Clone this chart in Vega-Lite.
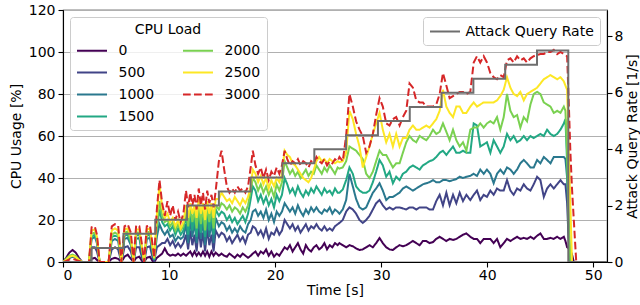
{
  "$schema": "https://vega.github.io/schema/vega-lite/v6.json",
  "width": 544,
  "height": 252,
  "autosize": {"type": "none"},
  "padding": {"left": 63, "top": 10, "right": 33, "bottom": 43},
  "config": {
    "font": "DejaVu Sans",
    "view": {"stroke": "#000", "strokeWidth": 1.1},
    "axis": {"labelFontSize": 14, "titleFontSize": 14, "titleFontWeight": "normal", "labelColor": "#000", "titleColor": "#000", "domainColor": "#000", "tickColor": "#000", "tickSize": 5, "domainWidth": 1.1, "tickWidth": 1.1, "labelFont": "DejaVu Sans", "titleFont": "DejaVu Sans"},
    "legend": {"labelFontSize": 14, "titleFontSize": 14, "titleFontWeight": "normal", "labelColor": "#000", "titleColor": "#000", "labelFont": "DejaVu Sans", "titleFont": "DejaVu Sans", "symbolType": "M-2,0L2,0", "symbolSize": 225, "symbolOffset": 7.5, "symbolStrokeWidth": 2, "fillColor": "rgba(255,255,255,0.8)", "strokeColor": "#cccccc", "cornerRadius": 3, "padding": 6, "labelOffset": 18, "offset": 7}
  },
  "datasets": {
    "cpu": [
      {"t":0,"0":0,"500":0,"1000":0,"1500":0,"2000":0,"2500":0,"3000":0},
      {"t":0.3,"0":2,"500":1,"1000":1,"1500":1,"2000":1.5,"2500":1,"3000":0.5},
      {"t":0.6,"0":4.5,"500":2,"1000":2,"1500":2.5,"2000":3,"2500":2.5,"3000":1.2},
      {"t":0.9,"0":5.7,"500":2.5,"1000":2.5,"1500":3,"2000":3.5,"2500":3,"3000":1.5},
      {"t":1.2,"0":4.5,"500":2,"1000":2,"1500":2.5,"2000":2.8,"2500":2.3,"3000":1},
      {"t":1.5,"0":2,"500":1,"1000":1,"1500":1,"2000":1.2,"2500":1,"3000":0.5},
      {"t":1.8,"0":0,"500":0,"1000":0,"1500":0,"2000":0,"2500":0,"3000":0},
      {"t":2.45,"0":0,"500":0,"1000":0,"1500":0,"2000":0,"2500":0,"3000":0},
      {"t":2.7,"0":1.5,"500":7,"1000":11,"1500":12,"2000":13.5,"2500":15,"3000":16.5},
      {"t":3.0,"0":2,"500":7,"1000":12,"1500":13,"2000":14,"2500":15.5,"3000":17},
      {"t":3.2,"0":1,"500":5,"1000":9,"1500":10,"2000":11,"2500":12,"3000":13},
      {"t":3.45,"0":0,"500":0,"1000":0,"1500":0,"2000":0,"2500":0,"3000":0},
      {"t":4.3,"0":0,"500":0,"1000":0,"1500":0,"2000":0,"2500":0,"3000":0},
      {"t":4.6,"0":1.5,"500":6,"1000":10,"1500":12,"2000":13,"2500":15,"3000":17},
      {"t":4.9,"0":2,"500":7,"1000":11,"1500":12.5,"2000":14,"2500":16,"3000":18},
      {"t":5.2,"0":1.5,"500":6,"1000":10,"1500":12,"2000":13,"2500":15,"3000":17.5},
      {"t":5.5,"0":0,"500":0,"1000":0,"1500":0,"2000":0,"2500":0,"3000":0},
      {"t":5.8,"0":2.5,"500":7,"1000":11,"1500":12.5,"2000":14,"2500":15.5,"3000":17},
      {"t":6.1,"0":3.5,"500":7.5,"1000":11.5,"1500":13,"2000":14.5,"2500":16,"3000":18},
      {"t":6.4,"0":1.5,"500":5,"1000":8,"1500":9,"2000":10,"2500":12,"3000":14},
      {"t":6.65,"0":0,"500":0,"1000":0,"1500":0,"2000":0,"2500":0,"3000":0},
      {"t":6.9,"0":2,"500":7,"1000":11,"1500":12.5,"2000":14,"2500":15.5,"3000":17.5},
      {"t":7.2,"0":2.5,"500":7,"1000":11.5,"1500":13,"2000":14,"2500":15.5,"3000":17},
      {"t":7.45,"0":0.5,"500":2,"1000":4,"1500":5,"2000":6,"2500":7,"3000":8},
      {"t":7.65,"0":0,"500":0,"1000":0,"1500":0,"2000":0,"2500":0,"3000":0},
      {"t":7.9,"0":2,"500":7,"1000":11,"1500":12.5,"2000":14,"2500":15.5,"3000":17},
      {"t":8.2,"0":2.5,"500":7.5,"1000":11.5,"1500":13,"2000":14.5,"2500":16,"3000":17.5},
      {"t":8.45,"0":0.5,"500":2,"1000":4,"1500":5,"2000":6,"2500":7,"3000":8},
      {"t":8.6,"0":0,"500":0.5,"1000":1,"1500":1,"2000":1.5,"2500":2,"3000":2},
      {"t":8.85,"0":2,"500":7,"1000":12,"1500":16,"2000":18,"2500":22,"3000":25},
      {"t":9.1,"0":3,"500":8,"1000":18,"1500":25,"2000":29,"2500":37,"3000":39},
      {"t":9.35,"0":4,"500":9,"1000":15,"1500":19,"2000":22,"2500":26,"3000":28},
      {"t":9.6,"0":6.5,"500":9,"1000":13,"1500":17,"2000":19,"2500":21,"3000":22},
      {"t":9.85,"0":4,"500":11,"1000":15,"1500":18,"2000":20,"2500":23,"3000":29},
      {"t":10.1,"0":3,"500":8,"1000":12,"1500":15,"2000":17,"2500":19,"3000":22},
      {"t":10.35,"0":3.5,"500":10,"1000":13,"1500":17,"2000":19,"2500":21,"3000":27},
      {"t":10.6,"0":3,"500":7,"1000":10,"1500":13,"2000":15,"2500":17,"3000":20},
      {"t":10.85,"0":4,"500":9,"1000":12,"1500":16,"2000":18,"2500":20,"3000":24},
      {"t":11.1,"0":3,"500":7,"1000":11,"1500":13,"2000":15,"2500":16,"3000":19},
      {"t":11.35,"0":4,"500":9,"1000":12,"1500":15,"2000":17,"2500":19,"3000":23},
      {"t":11.6,"0":3,"500":13,"1000":18,"1500":22,"2000":25,"2500":27,"3000":34},
      {"t":11.8,"0":4,"500":6,"1000":9,"1500":13,"2000":17,"2500":21,"3000":26},
      {"t":12.0,"0":5,"500":15,"1000":20,"1500":24,"2000":26,"2500":28,"3000":33},
      {"t":12.2,"0":3,"500":8,"1000":12,"1500":15,"2000":19,"2500":23,"3000":27},
      {"t":12.4,"0":5,"500":13,"1000":19,"1500":23,"2000":25,"2500":27,"3000":32},
      {"t":12.6,"0":3,"500":5,"1000":9,"1500":12,"2000":16,"2500":21,"3000":25},
      {"t":12.8,"0":4.5,"500":16,"1000":22,"1500":26,"2000":27,"2500":30,"3000":35},
      {"t":13.0,"0":3,"500":7,"1000":11,"1500":14,"2000":18,"2500":23,"3000":27},
      {"t":13.2,"0":5,"500":14,"1000":20,"1500":24,"2000":26,"2500":28,"3000":33},
      {"t":13.4,"0":3,"500":5,"1000":8,"1500":12,"2000":15,"2500":20,"3000":25},
      {"t":13.6,"0":5,"500":16,"1000":21,"1500":25,"2000":27,"2500":29,"3000":34},
      {"t":13.8,"0":2.5,"500":8,"1000":12,"1500":15,"2000":19,"2500":23,"3000":28},
      {"t":14.0,"0":5,"500":13,"1000":19,"1500":23,"2000":26,"2500":28,"3000":32},
      {"t":14.2,"0":3,"500":5,"1000":9,"1500":13,"2000":16,"2500":21,"3000":26},
      {"t":14.4,"0":4.5,"500":15,"1000":21,"1500":25,"2000":27,"2500":30,"3000":34},
      {"t":14.7,"0":3,"500":12,"1000":17,"1500":22,"2000":25,"2500":30,"3000":48},
      {"t":14.95,"0":4,"500":14,"1000":19,"1500":24,"2000":28,"2500":33,"3000":53},
      {"t":15.2,"0":3,"500":13,"1000":18,"1500":23,"2000":27,"2500":31,"3000":44},
      {"t":15.45,"0":2.5,"500":10,"1000":15,"1500":20,"2000":25,"2500":29,"3000":36},
      {"t":15.7,"0":4,"500":12,"1000":17,"1500":22,"2000":27,"2500":30,"3000":33},
      {"t":15.95,"0":3,"500":9,"1000":14,"1500":19,"2000":24,"2500":28,"3000":35},
      {"t":16.2,"0":2,"500":11,"1000":16,"1500":21,"2000":26,"2500":31,"3000":33},
      {"t":16.45,"0":3.5,"500":13,"1000":14,"1500":18,"2000":25,"2500":29,"3000":36},
      {"t":16.7,"0":2.5,"500":10,"1000":17,"1500":20,"2000":23,"2500":27,"3000":34},
      {"t":16.95,"0":4,"500":12,"1000":15,"1500":22,"2000":26,"2500":30,"3000":35},
      {"t":17.2,"0":3,"500":9,"1000":14,"1500":19,"2000":24,"2500":28,"3000":33},
      {"t":17.45,"0":2,"500":13,"1000":18,"1500":23,"2000":27,"2500":31,"3000":36},
      {"t":17.7,"0":3,"500":14,"1000":20,"1500":30,"2000":34,"2500":36,"3000":45},
      {"t":17.9,"0":4,"500":17,"1000":24,"1500":36,"2000":40,"2500":44,"3000":53},
      {"t":18.15,"0":5,"500":16,"1000":25,"1500":34,"2000":38,"2500":42,"3000":46},
      {"t":18.4,"0":3,"500":13,"1000":22,"1500":29,"2000":34,"2500":38,"3000":42},
      {"t":18.65,"0":5,"500":15,"1000":24,"1500":32,"2000":37,"2500":41,"3000":45},
      {"t":18.9,"0":4,"500":12,"1000":21,"1500":28,"2000":33,"2500":37,"3000":40},
      {"t":19.15,"0":6,"500":16,"1000":25,"1500":31,"2000":36,"2500":40,"3000":44},
      {"t":19.4,"0":3,"500":11,"1000":20,"1500":27,"2000":32,"2500":35,"3000":39},
      {"t":19.65,"0":5,"500":14,"1000":23,"1500":30,"2000":35,"2500":39,"3000":43},
      {"t":19.9,"0":2.5,"500":13,"1000":19,"1500":26,"2000":31,"2500":36,"3000":41},
      {"t":20.15,"0":4,"500":16,"1000":24,"1500":32,"2000":37,"2500":40,"3000":45},
      {"t":20.4,"0":3,"500":13,"1000":22,"1500":29,"2000":34,"2500":38,"3000":42},
      {"t":20.65,"0":5,"500":15,"1000":24,"1500":32,"2000":38,"2500":42,"3000":46},
      {"t":20.9,"0":7,"500":20,"1000":28,"1500":40,"2000":48,"2500":53,"3000":53},
      {"t":21.15,"0":6,"500":18,"1000":26,"1500":37,"2000":45,"2500":51,"3000":49},
      {"t":21.4,"0":8,"500":16,"1000":24,"1500":33,"2000":42,"2500":50,"3000":46},
      {"t":21.65,"0":5,"500":18,"1000":26,"1500":35,"2000":44,"2500":47,"3000":48},
      {"t":21.9,"0":7,"500":15,"1000":23,"1500":32,"2000":41,"2500":46,"3000":47},
      {"t":22.15,"0":9,"500":17,"1000":27,"1500":36,"2000":43,"2500":44,"3000":49},
      {"t":22.4,"0":6,"500":14,"1000":24,"1500":33,"2000":40,"2500":42,"3000":46},
      {"t":22.65,"0":4,"500":16,"1000":22,"1500":31,"2000":42,"2500":40,"3000":48},
      {"t":22.9,"0":8,"500":18,"1000":25,"1500":34,"2000":44,"2500":39,"3000":47},
      {"t":23.15,"0":6,"500":15,"1000":23,"1500":32,"2000":41,"2500":38,"3000":45},
      {"t":23.4,"0":5,"500":17,"1000":26,"1500":35,"2000":43,"2500":40,"3000":48},
      {"t":23.65,"0":7,"500":16,"1000":24,"1500":33,"2000":42,"2500":44,"3000":47},
      {"t":23.9,"0":8,"500":18,"1000":26,"1500":36,"2000":46,"2500":48,"3000":50},
      {"t":24.15,"0":6,"500":16,"1000":24,"1500":34,"2000":44,"2500":50,"3000":48},
      {"t":24.4,"0":7,"500":15,"1000":23,"1500":32,"2000":42,"2500":48,"3000":47},
      {"t":24.65,"0":9,"500":17,"1000":25,"1500":35,"2000":45,"2500":49,"3000":49},
      {"t":24.9,"0":6,"500":15,"1000":24,"1500":33,"2000":43,"2500":47,"3000":46},
      {"t":25.15,"0":8,"500":16,"1000":26,"1500":34,"2000":46,"2500":49,"3000":48},
      {"t":25.4,"0":7,"500":15,"1000":23,"1500":32,"2000":44,"2500":48,"3000":47},
      {"t":25.65,"0":9,"500":17,"1000":25,"1500":35,"2000":42,"2500":47,"3000":49},
      {"t":25.9,"0":8,"500":18,"1000":24,"1500":33,"2000":45,"2500":48,"3000":48},
      {"t":26.07,"0":9,"500":18.6,"1000":23,"1500":33,"2000":44.5,"2500":47.5,"3000":50},
      {"t":26.38,"0":8,"500":20,"1000":25,"1500":34.5,"2000":45,"2500":48,"3000":48},
      {"t":26.7,"0":7,"500":24,"1000":29.5,"1500":39,"2000":48,"2500":52,"3000":60},
      {"t":27.01,"0":8,"500":26,"1000":42,"1500":45,"2000":55,"2500":72,"3000":80},
      {"t":27.33,"0":7.5,"500":25,"1000":36,"1500":42,"2000":54,"2500":68,"3000":74},
      {"t":27.64,"0":6.5,"500":23,"1000":30,"1500":36,"2000":53,"2500":61,"3000":67},
      {"t":27.96,"0":5.7,"500":20,"1000":26,"1500":34,"2000":51,"2500":55,"3000":63},
      {"t":28.27,"0":6,"500":18.6,"1000":25,"1500":33,"2000":49,"2500":45,"3000":60},
      {"t":28.59,"0":7,"500":20,"1000":26,"1500":33,"2000":42,"2500":50,"3000":52},
      {"t":28.9,"0":8,"500":22,"1000":29.5,"1500":34,"2000":40,"2500":55,"3000":55},
      {"t":29.22,"0":7,"500":25,"1000":33,"1500":38,"2000":43,"2500":61,"3000":61},
      {"t":29.53,"0":9,"500":28,"1000":35,"1500":43,"2000":48,"2500":66,"3000":70},
      {"t":29.85,"0":11.4,"500":29.5,"1000":37.5,"1500":48.6,"2000":53,"2500":71,"3000":78},
      {"t":30.16,"0":9,"500":27,"1000":34,"1500":46,"2000":51,"2500":63,"3000":74},
      {"t":30.48,"0":7,"500":25,"1000":29.5,"1500":40.6,"2000":51,"2500":57,"3000":66},
      {"t":30.79,"0":6,"500":26,"1000":31,"1500":43,"2000":48,"2500":61,"3000":65},
      {"t":31.11,"0":5.7,"500":25,"1000":31,"1500":37.5,"2000":45,"2500":55,"3000":68},
      {"t":31.42,"0":7,"500":26,"1000":32,"1500":40.6,"2000":47,"2500":61,"3000":69},
      {"t":31.74,"0":8,"500":26,"1000":33,"1500":39,"2000":47,"2500":55,"3000":65},
      {"t":32.05,"0":7.5,"500":25.5,"1000":35,"1500":42,"2000":52,"2500":59,"3000":69},
      {"t":32.37,"0":8,"500":25,"1000":36,"1500":43,"2000":57,"2500":59,"3000":72},
      {"t":32.68,"0":9,"500":26,"1000":35,"1500":45,"2000":60,"2500":63,"3000":85},
      {"t":33.0,"0":10,"500":26,"1000":34,"1500":46,"2000":58,"2500":65,"3000":83},
      {"t":33.31,"0":9,"500":25,"1000":35,"1500":45,"2000":57,"2500":63,"3000":77},
      {"t":33.63,"0":8,"500":26,"1000":36,"1500":44,"2000":60,"2500":63,"3000":76},
      {"t":33.94,"0":10,"500":26,"1000":37,"1500":46,"2000":59,"2500":64,"3000":76},
      {"t":34.26,"0":10,"500":26,"1000":37.5,"1500":47,"2000":58,"2500":65,"3000":74},
      {"t":34.57,"0":9,"500":25,"1000":38,"1500":48,"2000":60,"2500":64,"3000":74},
      {"t":34.89,"0":9.5,"500":25,"1000":39,"1500":48.6,"2000":63,"2500":66,"3000":74},
      {"t":35.2,"0":11,"500":29,"1000":38,"1500":50,"2000":61,"2500":68,"3000":75},
      {"t":35.52,"0":12,"500":32,"1000":38,"1500":52,"2000":62,"2500":72,"3000":80},
      {"t":35.83,"0":11,"500":27,"1000":39,"1500":53,"2000":66,"2500":82,"3000":90},
      {"t":36.15,"0":10,"500":33,"1000":39,"1500":51,"2000":62,"2500":74,"3000":84},
      {"t":36.46,"0":11,"500":27,"1000":38.5,"1500":53,"2000":58,"2500":71,"3000":78},
      {"t":36.78,"0":10.5,"500":32,"1000":39,"1500":55,"2000":63,"2500":69,"3000":79},
      {"t":37.09,"0":11,"500":28,"1000":39.5,"1500":52,"2000":58,"2500":74,"3000":80},
      {"t":37.41,"0":12,"500":33,"1000":40.6,"1500":52,"2000":55,"2500":74,"3000":81},
      {"t":37.72,"0":13,"500":29,"1000":40,"1500":53,"2000":57,"2500":71,"3000":81},
      {"t":38.04,"0":13.6,"500":32,"1000":40.6,"1500":52,"2000":53,"2500":71,"3000":80},
      {"t":38.41,"0":12,"500":29.5,"1000":41,"1500":52,"2000":63,"2500":74,"3000":81},
      {"t":38.73,"0":11,"500":32,"1000":42,"1500":66,"2000":64,"2500":76,"3000":95},
      {"t":39.04,"0":11,"500":34,"1000":41,"1500":65,"2000":64,"2500":74,"3000":98},
      {"t":39.35,"0":9,"500":29.5,"1000":44,"1500":55,"2000":66,"2500":75,"3000":95},
      {"t":39.67,"0":11,"500":32,"1000":42,"1500":56,"2000":64,"2500":76,"3000":98},
      {"t":39.98,"0":11,"500":31,"1000":44,"1500":57,"2000":66,"2500":76,"3000":95},
      {"t":40.3,"0":11,"500":34,"1000":42,"1500":52,"2000":67,"2500":76,"3000":90},
      {"t":40.61,"0":9,"500":32,"1000":37.5,"1500":58,"2000":66,"2500":76,"3000":88},
      {"t":40.93,"0":11,"500":35,"1000":42,"1500":55,"2000":69,"2500":77,"3000":87},
      {"t":41.24,"0":7,"500":34,"1000":44,"1500":52,"2000":63,"2500":79,"3000":89},
      {"t":41.56,"0":9,"500":34,"1000":42,"1500":55,"2000":69,"2500":82,"3000":88},
      {"t":41.87,"0":11,"500":39,"1000":45,"1500":61,"2000":80,"2500":88,"3000":96},
      {"t":42.19,"0":10,"500":34,"1000":44,"1500":58,"2000":72,"2500":83,"3000":97},
      {"t":42.5,"0":11,"500":32,"1000":42,"1500":60,"2000":69,"2500":80,"3000":95},
      {"t":42.82,"0":12,"500":35,"1000":44,"1500":57,"2000":70,"2500":79,"3000":98},
      {"t":43.13,"0":11,"500":34,"1000":47,"1500":58,"2000":64,"2500":81,"3000":96},
      {"t":43.45,"0":11.5,"500":37,"1000":48.6,"1500":60,"2000":69,"2500":77,"3000":97},
      {"t":43.76,"0":11,"500":35,"1000":47,"1500":58,"2000":67,"2500":80,"3000":95},
      {"t":44.08,"0":12,"500":34,"1000":45,"1500":60,"2000":75,"2500":81,"3000":97},
      {"t":44.39,"0":11,"500":37,"1000":45,"1500":59,"2000":80,"2500":82,"3000":98},
      {"t":44.71,"0":12.5,"500":40.6,"1000":48.6,"1500":60,"2000":81,"2500":83,"3000":98.6},
      {"t":45.02,"0":13.6,"500":39,"1000":47,"1500":61,"2000":80,"2500":85,"3000":99},
      {"t":45.34,"0":11,"500":31,"1000":50,"1500":60,"2000":76,"2500":87,"3000":99},
      {"t":45.65,"0":11,"500":35,"1000":48.6,"1500":63,"2000":75,"2500":88,"3000":100},
      {"t":45.97,"0":11.5,"500":37,"1000":47,"1500":61,"2000":74,"2500":89,"3000":100},
      {"t":46.28,"0":11,"500":35,"1000":50,"1500":60,"2000":71,"2500":88,"3000":101},
      {"t":46.6,"0":12,"500":37,"1000":50,"1500":61,"2000":72,"2500":87,"3000":99},
      {"t":46.91,"0":11,"500":39,"1000":50,"1500":63,"2000":71,"2500":88,"3000":100},
      {"t":47.23,"0":12,"500":37,"1000":50,"1500":66,"2000":74,"2500":86,"3000":99},
      {"t":47.38,"0":10,"500":37,"1000":49,"1500":68,"2000":72,"2500":84,"3000":98.5},
      {"t":47.54,"0":7,"500":28,"1000":40,"1500":47,"2000":52,"2500":82,"3000":98},
      {"t":47.7,"0":6.5,"500":8,"1000":12,"1500":15,"2000":18,"2500":52,"3000":75},
      {"t":47.85,"0":5.7,"500":0,"1000":0,"1500":0,"2000":0,"2500":26,"3000":52},
      {"t":48.0,"0":3.5,"500":0,"1000":0,"1500":0,"2000":0,"2500":0,"3000":35},
      {"t":48.17,"0":0,"500":0,"1000":0,"1500":0,"2000":0,"2500":0,"3000":20},
      {"t":48.4,"0":0,"500":0,"1000":0,"1500":0,"2000":0,"2500":0,"3000":0},
      {"t":51.3,"0":0,"500":0,"1000":0,"1500":0,"2000":0,"2500":0,"3000":0}
    ],
    "rate": [
      {"t":0,"rate":0},{"t":2.7,"rate":0.5},{"t":5.7,"rate":1},{"t":8.7,"rate":1.5},{"t":11.7,"rate":2},
      {"t":14.7,"rate":2.5},{"t":17.7,"rate":3},{"t":20.7,"rate":3.5},{"t":23.7,"rate":4},{"t":26.7,"rate":4.5},
      {"t":29.7,"rate":5},{"t":32.7,"rate":5.5},{"t":35.7,"rate":6},{"t":38.7,"rate":6.5},{"t":41.7,"rate":7},
      {"t":44.7,"rate":7.5},{"t":47.65,"rate":0},{"t":51.3,"rate":0}
    ]
  },
  "layer": [
    {
      "data": {"name": "cpu"},
      "transform": [{"fold": ["0","500","1000","1500","2000","2500","3000"], "as": ["load","cpu"]}],
      "mark": {"type": "line", "strokeWidth": 2, "clip": true},
      "encoding": {
        "x": {"field": "t", "type": "quantitative", "scale": {"domain": [0, 51.3], "nice": false, "zero": false},
              "axis": {"title": "Time [s]", "values": [0,10,20,30,40,50], "grid": false, "labelPadding": 1, "titlePadding": 1}},
        "y": {"field": "cpu", "type": "quantitative", "scale": {"domain": [0,120], "nice": false},
              "axis": {"title": "CPU Usage [%]", "values": [0,20,40,60,80,100,120], "grid": true, "gridColor": "#b0b0b0", "gridWidth": 1.1, "labelPadding": 3, "titlePadding": 5}},
        "color": {"field": "load", "type": "nominal", "title": "CPU Load",
                  "scale": {"domain": ["0","500","1000","1500","2000","2500","3000"], "range": ["#440154","#414487","#2a788e","#22a884","#7ad151","#fde725","#d62728"]},
                  "legend": {"orient": "top-left", "columns": 2, "columnPadding": 24, "rowPadding": 6, "titleAnchor": "middle", "titlePadding": 5}},
        "strokeDash": {"field": "load", "type": "nominal", "title": "CPU Load",
                  "scale": {"domain": ["0","500","1000","1500","2000","2500","3000"], "range": [[1,0],[1,0],[1,0],[1,0],[1,0],[1,0],[7.7,3.3]]},
                  "legend": {"orient": "top-left", "columns": 2, "columnPadding": 24, "rowPadding": 6, "titleAnchor": "middle", "titlePadding": 5}}
      }
    },
    {
      "data": {"name": "rate"},
      "mark": {"type": "line", "interpolate": "step-after", "strokeWidth": 2, "clip": true},
      "encoding": {
        "x": {"field": "t", "type": "quantitative"},
        "y": {"field": "rate", "type": "quantitative", "scale": {"domain": [0, 8.94], "nice": false},
              "axis": {"orient": "right", "title": "Attack Query Rate [1/s]", "values": [0,2,4,6,8], "grid": false, "labelPadding": 2, "titlePadding": 3, "titleAngle": 270, "titleBaseline": "top"}},
        "color": {"datum": "Attack Query Rate", "title": null, "scale": {"range": ["#6e6e6e"]},
                  "legend": {"orient": "top-right", "labelOffset": 12}}
      }
    }
  ],
  "resolve": {"scale": {"y": "independent", "color": "independent", "strokeDash": "independent"}, "legend": {"color": "independent", "strokeDash": "independent"}}
}
